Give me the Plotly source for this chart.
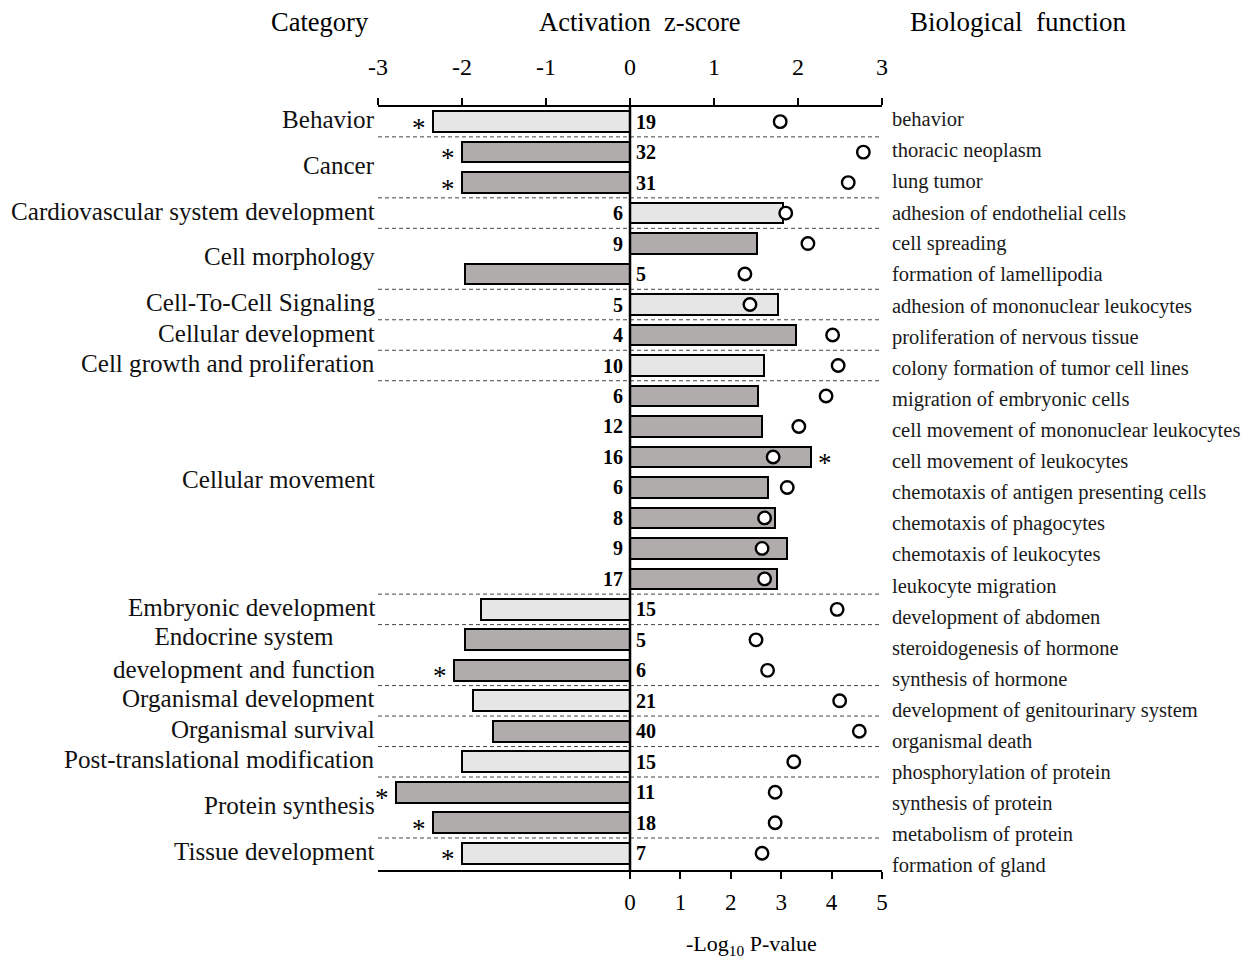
import plotly.graph_objects as go

categories = ["Behavior", "Cancer", "Cardiovascular system development", "Cell morphology",
              "Cell-To-Cell Signaling", "Cellular development", "Cell growth and proliferation",
              "Cellular movement", "Embryonic development",
              "Endocrine system<br>development and function", "Organismal development",
              "Organismal survival", "Post-translational modification", "Protein synthesis",
              "Tissue development"]
category_sizes = [1, 2, 1, 2, 1, 1, 1, 7, 1, 2, 1, 1, 1, 2, 1]

functions = ["behavior", "thoracic neoplasm", "lung tumor", "adhesion of endothelial cells",
             "cell spreading", "formation of lamellipodia", "adhesion of mononuclear leukocytes",
             "proliferation of nervous tissue", "colony formation of tumor cell lines",
             "migration of embryonic cells", "cell movement of mononuclear leukocytes",
             "cell movement of leukocytes", "chemotaxis of antigen presenting cells",
             "chemotaxis of phagocytes", "chemotaxis of leukocytes", "leukocyte migration",
             "development of abdomen", "steroidogenesis of hormone", "synthesis of hormone",
             "development of genitourinary system", "organismal death",
             "phosphorylation of protein", "synthesis of protein", "metabolism of protein",
             "formation of gland"]
zscore = [-2.35, -2.0, -2.0, 1.82, 1.51, -1.96, 1.76, 1.98, 1.59, 1.52, 1.57, 2.16, 1.64,
          1.73, 1.87, 1.75, -1.77, -1.96, -2.10, -1.87, -1.63, -2.0, -2.78, -2.35, -2.0]
neglog_p = [2.98, 4.63, 4.33, 3.09, 3.53, 2.28, 2.38, 4.02, 4.13, 3.89, 3.35, 2.84, 3.12,
            2.67, 2.62, 2.67, 4.11, 2.50, 2.73, 4.16, 4.55, 3.25, 2.88, 2.88, 2.62]
gene_counts = [19, 32, 31, 6, 9, 5, 5, 4, 10, 6, 12, 16, 6, 8, 9, 17, 15, 5, 6, 21, 40, 15,
               11, 18, 7]
significant = [True, True, True, False, False, False, False, False, False, False, False, True,
               False, False, False, False, False, False, True, False, False, False, True, True,
               True]
z_ticks = [-3, -2, -1, 0, 1, 2, 3]
p_ticks = [0, 1, 2, 3, 4, 5]

FONT = "Liberation Serif, Times New Roman, serif"
LIGHT = "#e6e6e6"
DARK = "#b0acab"

n = len(functions)
rows = list(range(n))

# colours per row, alternating by category
colors = []
for ci, size in enumerate(category_sizes):
    for _ in range(size):
        colors.append(LIGHT if ci % 2 == 0 else DARK)

fig = go.Figure()
fig.add_trace(go.Bar(
    x=zscore, y=rows, orientation="h", width=0.68,
    marker=dict(color=colors, line=dict(color="black", width=2)),
    xaxis="x", yaxis="y", hoverinfo="skip", showlegend=False))
fig.add_trace(go.Scatter(
    x=neglog_p, y=rows, mode="markers", xaxis="x2", yaxis="y",
    marker=dict(symbol="circle", size=12.5, color="white",
                line=dict(color="black", width=2.4)),
    hoverinfo="skip", showlegend=False, cliponaxis=False))

annotations = []
shapes = []

# gene counts
for i in rows:
    neg = zscore[i] < 0
    annotations.append(dict(
        x=0, y=i, xref="x", yref="y", text=f"<b>{gene_counts[i]}</b>", showarrow=False,
        xanchor="left" if neg else "right", xshift=4 if neg else -5,
        font=dict(family=FONT, size=20, color="black")))

# asterisks
for i in rows:
    if significant[i]:
        neg = zscore[i] < 0
        annotations.append(dict(
            x=zscore[i], y=i, xref="x", yref="y", text="*", showarrow=False,
            xanchor="center", xshift=-14 if neg else 14, yshift=-6,
            font=dict(family=FONT, size=27, color="black")))

# category labels and separators
start = 0
for ci, size in enumerate(category_sizes):
    center = start + (size - 1) / 2
    if size > 2:
        center -= 0.2
    annotations.append(dict(
        x=0, y=center, xref="paper", yref="y", text=categories[ci], showarrow=False,
        xanchor="right", xshift=-1, yshift=2,
        font=dict(family=FONT, size=25.1, color="#111")))
    end = start + size
    if end < n:
        shapes.append(dict(type="line", xref="paper", yref="y", x0=0, x1=1,
                           y0=end - 0.5, y1=end - 0.5,
                           line=dict(color="#444", width=1, dash="4px,3px"), layer="below"))
    start = end

# biological function labels
for i in rows:
    annotations.append(dict(
        x=1, y=i, xref="paper", yref="y2", text=functions[i], showarrow=False,
        xanchor="left", xshift=8,
        font=dict(family=FONT, size=20.5, color="#1a1a1a")))

# headers
annotations += [
    dict(x=0, y=1, xref="paper", yref="paper", text="Category", showarrow=False,
         xanchor="center", yanchor="middle", xshift=-58, yshift=85,
         font=dict(family=FONT, size=26.5, color="black")),
    dict(x=0.5, y=1, xref="paper", yref="paper", text="Activation  z-score", showarrow=False,
         xanchor="center", yanchor="middle", xshift=10, yshift=85,
         font=dict(family=FONT, size=26.5, color="black")),
    dict(x=1, y=1, xref="paper", yref="paper", text="Biological  function", showarrow=False,
         xanchor="center", yanchor="middle", xshift=136, yshift=85,
         font=dict(family=FONT, size=27, color="black")),
    dict(x=0.5, y=0, xref="paper", yref="paper", text="-Log<sub>10</sub> P-value",
         showarrow=False, xanchor="center", yanchor="middle", xshift=121, yshift=-75,
         font=dict(family=FONT, size=22, color="black")),
]

# zero line
shapes.append(dict(type="line", xref="x", yref="paper", x0=0, x1=0, y0=0, y1=1,
                   line=dict(color="black", width=2.5), layer="above"))

fig.update_layout(
    width=1246, height=961,
    margin=dict(l=378, r=364, t=107, b=91),
    plot_bgcolor="white", paper_bgcolor="white",
    bargap=0,
    xaxis=dict(range=[-3, 3], side="top", anchor="y", showline=True, linecolor="black",
               linewidth=2, ticks="outside", ticklen=7, tickwidth=2, tickcolor="black",
               tickvals=z_ticks, ticktext=[str(t) for t in z_ticks], showgrid=False,
               zeroline=False, ticklabelstandoff=13,
               tickfont=dict(family=FONT, size=24, color="black")),
    xaxis2=dict(range=[-5, 5], overlaying="x", side="bottom", anchor="y", showline=True,
                linecolor="black", linewidth=2, ticks="outside", ticklen=7, tickwidth=2,
                tickcolor="black", tickvals=p_ticks, ticktext=[str(t) for t in p_ticks],
                showgrid=False, zeroline=False, ticklabelstandoff=3,
                tickfont=dict(family=FONT, size=23, color="black")),
    yaxis=dict(range=[24.55, -0.48], visible=False),
    yaxis2=dict(range=[24.13, -0.40], overlaying="y", visible=False),
    annotations=annotations,
    shapes=shapes,
    showlegend=False,
)

fig.write_html("out.html")
